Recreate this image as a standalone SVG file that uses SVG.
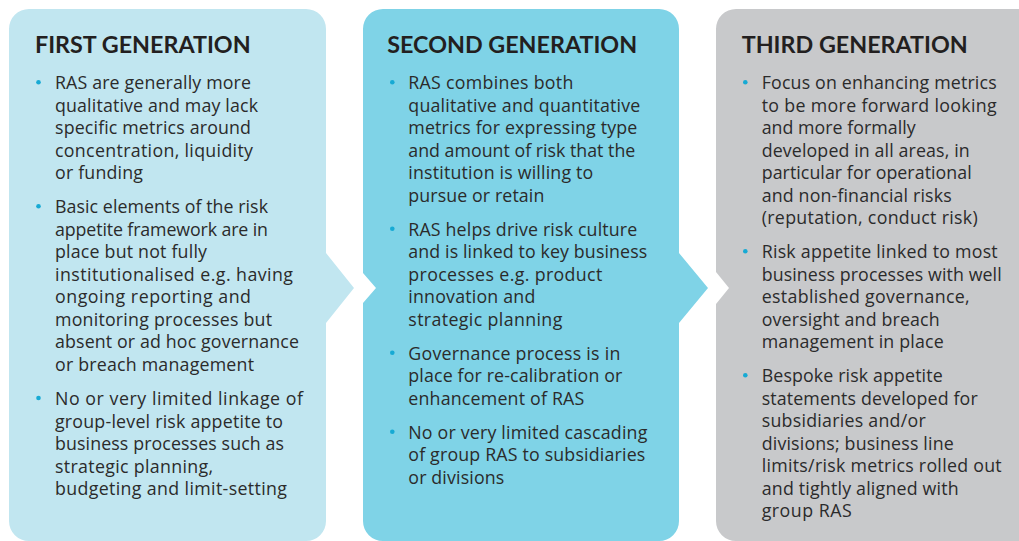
<svg xmlns="http://www.w3.org/2000/svg" width="1019" height="541" viewBox="0 0 1019 541">
  <style>
    .head { font-family: Lato, "Liberation Sans", sans-serif; font-weight: 700; font-size: 23.3px; fill: #231f20; }
    .body { font-family: "Open Sans", "Liberation Sans", sans-serif; font-size: 17.8px; fill: #2b2b2b; }
    .dot { fill: #17aad4; }
  </style>
  <rect width="1019" height="541" fill="#ffffff"/>

  <g id="first-generation">
    <path d="M29 9 H306 A20 20 0 0 1 326 29 V253 L354 288 L326 323 V521 A20 20 0 0 1 306 541 H29 A20 20 0 0 1 9 521 V29 A20 20 0 0 1 29 9 Z" fill="#c1e6f0"/>
    <text class="head" x="35" y="53.3">FIRST GENERATION</text>
    <circle class="dot" cx="38.5" cy="82.3" r="2.3"/>
    <circle class="dot" cx="38.5" cy="206.3" r="2.3"/>
    <circle class="dot" cx="38.5" cy="398" r="2.3"/>
    <text class="body" lengthAdjust="spacing">
      <tspan x="55" y="89.3" textLength="196">RAS are generally more</tspan>
      <tspan x="55" y="111.8" textLength="203">qualitative and may lack</tspan>
      <tspan x="55" y="134.3" textLength="196">specific metrics around</tspan>
      <tspan x="55" y="156.8" textLength="198">concentration, liquidity</tspan>
      <tspan x="55" y="179.3" textLength="88">or funding</tspan>
      <tspan x="55" y="213.3" textLength="213">Basic elements of the risk</tspan>
      <tspan x="55" y="235.8" textLength="213">appetite framework are in</tspan>
      <tspan x="55" y="258.3" textLength="152">place but not fully</tspan>
      <tspan x="55" y="280.8" textLength="238">institutionalised e.g. having</tspan>
      <tspan x="55" y="303.3" textLength="196">ongoing reporting and</tspan>
      <tspan x="55" y="325.8" textLength="217">monitoring processes but</tspan>
      <tspan x="55" y="348.3" textLength="244">absent or ad hoc governance</tspan>
      <tspan x="55" y="370.8" textLength="199">or breach management</tspan>
      <tspan x="55" y="405" textLength="248">No or very limited linkage of</tspan>
      <tspan x="55" y="427.5" textLength="228">group-level risk appetite to</tspan>
      <tspan x="55" y="450" textLength="229">business processes such as</tspan>
      <tspan x="55" y="472.5" textLength="158">strategic planning,</tspan>
      <tspan x="55" y="495" textLength="232">budgeting and limit-setting</tspan>
    </text>
  </g>

  <g id="second-generation">
    <path d="M383 9 H659 A20 20 0 0 1 679 29 V253 L708 288 L679 323 V521 A20 20 0 0 1 659 541 H383 A20 20 0 0 1 363 521 V303 L376 288 L363 273 V29 A20 20 0 0 1 383 9 Z" fill="#7fd3e7"/>
    <text class="head" x="387.3" y="53.3">SECOND GENERATION</text>
    <circle class="dot" cx="392.3" cy="82.3" r="2.3"/>
    <circle class="dot" cx="392.3" cy="228.8" r="2.3"/>
    <circle class="dot" cx="392.3" cy="352.8" r="2.3"/>
    <circle class="dot" cx="392.3" cy="431.8" r="2.3"/>
    <text class="body" lengthAdjust="spacing">
      <tspan x="408.3" y="89.3" textLength="165">RAS combines both</tspan>
      <tspan x="408.3" y="111.8" textLength="232">qualitative and quantitative</tspan>
      <tspan x="408.3" y="134.3" textLength="229">metrics for expressing type</tspan>
      <tspan x="408.3" y="156.8" textLength="227">and amount of risk that the</tspan>
      <tspan x="408.3" y="179.3" textLength="185">institution is willing to</tspan>
      <tspan x="408.3" y="201.8" textLength="136">pursue or retain</tspan>
      <tspan x="408.3" y="235.8" textLength="229">RAS helps drive risk culture</tspan>
      <tspan x="408.3" y="258.3" textLength="239">and is linked to key business</tspan>
      <tspan x="408.3" y="280.8" textLength="194">processes e.g. product</tspan>
      <tspan x="408.3" y="303.3" textLength="127">innovation and</tspan>
      <tspan x="408.3" y="325.8" textLength="154">strategic planning</tspan>
      <tspan x="408.3" y="359.8" textLength="212">Governance process is in</tspan>
      <tspan x="408.3" y="382.3" textLength="214">place for re-calibration or</tspan>
      <tspan x="408.3" y="404.8" textLength="176">enhancement of RAS</tspan>
      <tspan x="408.3" y="438.8" textLength="239">No or very limited cascading</tspan>
      <tspan x="408.3" y="461.3" textLength="237">of group RAS to subsidiaries</tspan>
      <tspan x="408.3" y="483.8" textLength="96">or divisions</tspan>
    </text>
  </g>

  <g id="third-generation">
    <path d="M736 9 H1040 V541 H736 A20 20 0 0 1 716 521 V304 L729 288 L716 272 V29 A20 20 0 0 1 736 9 Z" fill="#c8c9cb"/>
    <text class="head" x="741.7" y="53.3">THIRD GENERATION</text>
    <circle class="dot" cx="745.3" cy="82.3" r="2.3"/>
    <circle class="dot" cx="745.3" cy="251.3" r="2.3"/>
    <circle class="dot" cx="745.3" cy="375.3" r="2.3"/>
    <text class="body" lengthAdjust="spacing">
      <tspan x="761.7" y="89.3" textLength="235">Focus on enhancing metrics</tspan>
      <tspan x="761.7" y="111.8" textLength="235">to be more forward looking</tspan>
      <tspan x="761.7" y="134.3" textLength="154">and more formally</tspan>
      <tspan x="761.7" y="156.8" textLength="208">developed in all areas, in</tspan>
      <tspan x="761.7" y="179.3" textLength="210">particular for operational</tspan>
      <tspan x="761.7" y="201.8" textLength="190">and non-financial risks</tspan>
      <tspan x="761.7" y="224.3" textLength="216">(reputation, conduct risk)</tspan>
      <tspan x="761.7" y="258.3" textLength="236">Risk appetite linked to most</tspan>
      <tspan x="761.7" y="280.8" textLength="240">business processes with well</tspan>
      <tspan x="761.7" y="303.3" textLength="208">established governance,</tspan>
      <tspan x="761.7" y="325.8" textLength="178">oversight and breach</tspan>
      <tspan x="761.7" y="348.3" textLength="182">management in place</tspan>
      <tspan x="761.7" y="382.3" textLength="181">Bespoke risk appetite</tspan>
      <tspan x="761.7" y="404.8" textLength="216">statements developed for</tspan>
      <tspan x="761.7" y="427.3" textLength="164">subsidiaries and/or</tspan>
      <tspan x="761.7" y="449.8" textLength="192">divisions; business line</tspan>
      <tspan x="761.7" y="472.3" textLength="240">limits/risk metrics rolled out</tspan>
      <tspan x="761.7" y="494.8" textLength="197">and tightly aligned with</tspan>
      <tspan x="761.7" y="517.3" textLength="90">group RAS</tspan>
    </text>
  </g>
</svg>
